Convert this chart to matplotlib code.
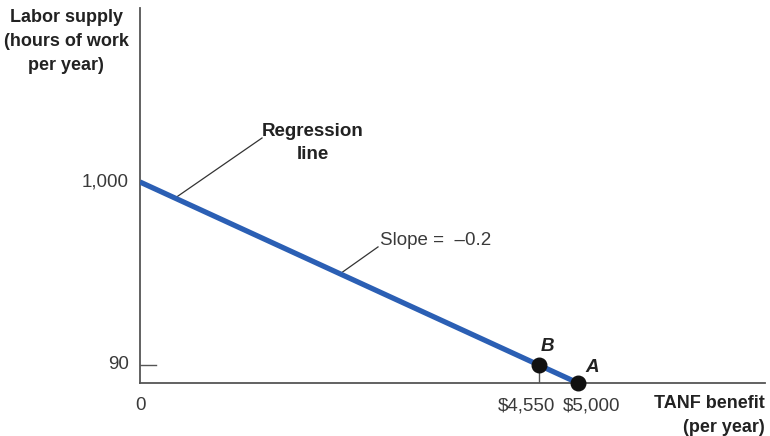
import matplotlib
matplotlib.use("Agg")
import matplotlib.pyplot as plt
from matplotlib import font_manager as fm

names = {f.name for f in fm.fontManager.ttflist}
FONT = "Liberation Sans Narrow" if "Liberation Sans Narrow" in names else "Liberation Sans"
plt.rcParams['font.family'] = [FONT, 'DejaVu Sans']

# Data
intercept = 1000
slope = -0.2
line_x = [0, 5000]
line_y = [intercept + slope * x for x in line_x]
point_labels = ["B", "A"]
point_x = [4550, 5000]
point_y = [90, 0]
ytick_vals = [90, 1000]
ytick_labels = ["90", "1,000"]
xtick_labels = ["$4,550", "$5,000"]

W, H = 770, 436
fig = plt.figure(figsize=(W / 100, H / 100), dpi=100)
ax = fig.add_axes([140 / W, (436 - 383) / H, (765 - 140) / W, (383 - 8) / H])
xmax = (765 - 140) * 5000 / 438
ymax = (383 - 8) * 1000 / 201
ax.set_xlim(0, xmax)
ax.set_ylim(0, ymax)
PX = 5000 / 438
PY = 1000 / 201

axis_col = "#555555"
for s in ["top", "right"]:
    ax.spines[s].set_visible(False)
for s in ["left", "bottom"]:
    ax.spines[s].set_color(axis_col)
    ax.spines[s].set_linewidth(1.3)

ax.set_xticks([])
ax.set_yticks([])

txt_col = "#3a3a3a"
# y tick labels
for v, lab in zip(ytick_vals, ytick_labels):
    ax.text(-11 * PX, v, lab, ha="right", va="center", fontsize=13.5, color=txt_col)
# tick mark for 90
ax.plot([0, 16 * PX], [90, 90], color=axis_col, lw=1.0)
# x labels
ax.text(0, -14 * PY, "0", ha="center", va="top", fontsize=13.5, color=txt_col, clip_on=False)
ax.text(point_x[0] - 12 * PX, -14 * PY, xtick_labels[0], ha="center", va="top",
        fontsize=13.5, color=txt_col, clip_on=False)
ax.text(point_x[1] + 14 * PX, -14 * PY, xtick_labels[1], ha="center", va="top",
        fontsize=13.5, color=txt_col, clip_on=False)

# drop line under B
ax.plot([point_x[0], point_x[0]], [0, point_y[0]], color=axis_col, lw=1.0)

# regression line
ax.plot(line_x, line_y, color="#2b5fb4", lw=3.8, solid_capstyle="butt", zorder=3)
ax.scatter(point_x, point_y, s=110, color="#111111", zorder=4, clip_on=False)

ax.text(point_x[0] + 9 * PX, point_y[0] + 10 * PY, point_labels[0], fontsize=13.5,
        fontweight="bold", fontstyle="italic", ha="center", va="bottom", color="#222222")
ax.text(point_x[1] + 14 * PX, point_y[1] + 7 * PY, point_labels[1], fontsize=13.5,
        fontweight="bold", fontstyle="italic", ha="center", va="bottom", color="#222222")

# annotations
ax.plot([400, 1393], [920, 1219], color="#333333", lw=0.9)
ax.text(1975, 1300 - 1 * PY, "Regression\nline", ha="center", va="top", fontsize=13.5, fontweight="bold",
        color="#222222", linespacing=1.5)
ax.plot([2283, 2717], [543, 677], color="#333333", lw=0.9)
ax.text(2740, 711, "Slope =  \u20130.2", ha="left", va="center", fontsize=13.5, color=txt_col)

# axis titles
fig.text(66 / W, 1 - 9 / H, "Labor supply\n(hours of work\nper year)", ha="center", va="top",
         fontsize=13, fontweight="bold", color="#222222", linespacing=1.55)
fig.text(765 / W, 1 - 395 / H, "TANF benefit\n(per year)", ha="right", va="top",
         fontsize=13, fontweight="bold", color="#222222", linespacing=1.5)

fig.savefig("out.png", dpi=100)
